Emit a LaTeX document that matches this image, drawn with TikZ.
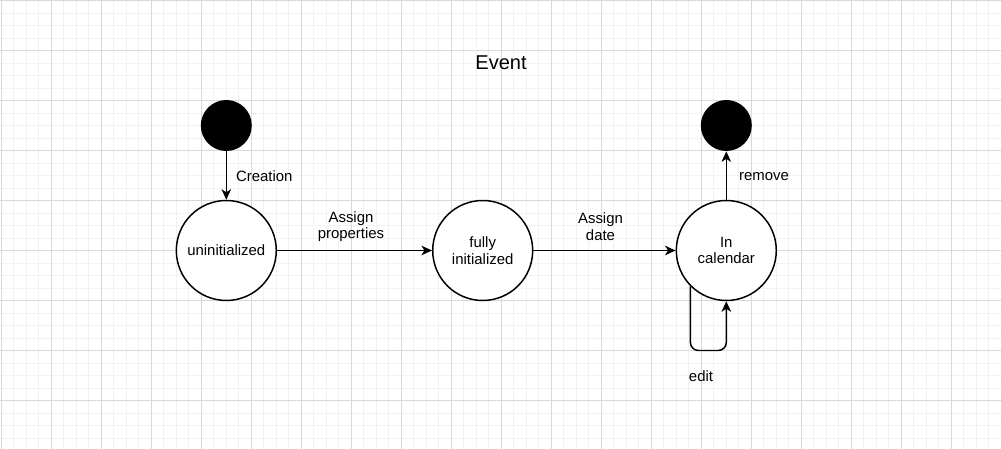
\documentclass[tikz,border=0pt]{standalone}
\usepackage{fontspec}
\setmainfont{Liberation Sans}
\usetikzlibrary{arrows.meta}

\tikzset{
  etat/.style={circle, draw, line width=0.85pt, fill=white, minimum size=2cm, inner sep=0pt, align=center, font=\fontsize{8.5}{9.5}\selectfont},
  pseudo/.style={circle, fill=black, minimum size=1.02cm, inner sep=0pt},
  lien/.style={-{Stealth[length=2.1mm,width=1.9mm,inset=0.6mm]}, line width=0.85pt},
  etiquette/.style={align=center, font=\fontsize{8.5}{9.5}\selectfont, inner sep=0pt},
  grillefine/.style={color=black!5, line width=0.55pt},
  grillegrosse/.style={color=black!15, line width=0.55pt},
}

\begin{document}
\begin{tikzpicture}[x=0.02cm, y=-0.02cm]
        \useasboundingbox (0,0) rectangle (1001,449);
        \fill[white] (0,0) rectangle (1001,449);

        % grille de fond
        \foreach \gx in {1.3,13.8,...,1001} \draw[grillefine] (\gx,0) -- (\gx,449);
        \foreach \gy in {0.5,13,...,449} \draw[grillefine] (0,\gy) -- (1001,\gy);
        \foreach \gx in {1.3,51.3,...,1001} \draw[grillegrosse] (\gx,0) -- (\gx,449);
        \foreach \gy in {0.5,50.5,...,449} \draw[grillegrosse] (0,\gy) -- (1001,\gy);

        % titre
        \node[font=\fontsize{11.4}{13}\selectfont] (titre) at (501,63) {Event};

        % dessin des etats
        \node[pseudo] (debut) at (226.3,125.5) {};
        \node[etat] (noninit) at (226.3,250.5) {uninitialized};
        \node[etat] (init) at (482.7,250.5) {fully\\initialized};
        \node[etat] (calendrier) at (726.3,250.5) {In\\calendar};
        \node[pseudo] (fin) at (726.3,125.5) {};

        % transitions
        \draw[lien] (debut) -- node[etiquette, right, xshift=0.18cm, yshift=-0.02cm] {Creation} (noninit);
        \draw[lien] (noninit) -- node[etiquette, yshift=0.48cm, xshift=-0.07cm] {Assign\\properties} (init);
        \draw[lien] (init) -- node[etiquette, yshift=0.48cm, xshift=-0.08cm] {Assign\\date} (calendrier);
        \draw[lien] (calendrier) -- node[etiquette, right, xshift=0.24cm, yshift=-0.02cm] {remove} (fin);

        % boucle d'edition
        \coordinate (boucle) at (708.5,350.5);
        \draw[lien, rounded corners=0.16cm] (calendrier.225) |- (boucle) -| (calendrier.south);
        \node[etiquette] (edition) at (701,376) {edit};
    \end{tikzpicture}
\end{document}
